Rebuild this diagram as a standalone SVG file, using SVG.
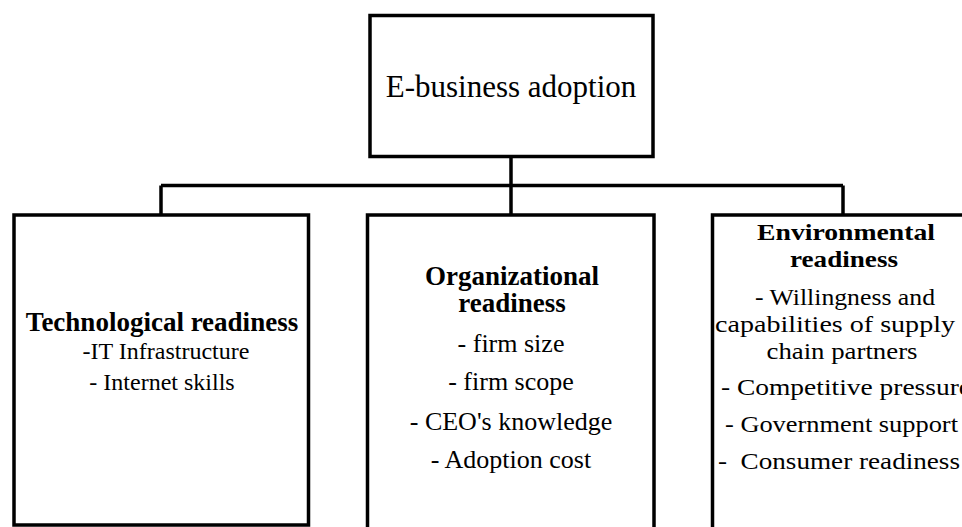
<svg xmlns="http://www.w3.org/2000/svg" width="962" height="527" viewBox="0 0 962 527">
  <style>
    .box { fill: #ffffff; stroke: #000000; stroke-width: 3.5; }
    .link { fill: none; stroke: #000000; stroke-width: 3.5; }
    text { font-family: "Liberation Serif", "Times New Roman", serif; fill: #000000; text-anchor: middle; }
    .title { font-size: 31px; }
    .head { font-size: 27px; font-weight: bold; }
    .item { font-size: 26px; }
    .item-sm { font-size: 24px; }
    .env-head { font-size: 24px; font-weight: bold; }
    .env-item { font-size: 24px; }
  </style>
  <rect width="962" height="527" fill="#ffffff"/>

  <!-- tree connectors -->
  <g id="connectors">
    <path class="link" d="M511 156 V215"/>
    <path class="link" d="M161 185.5 H843"/>
    <path class="link" d="M161 185.5 V215"/>
    <path class="link" d="M843 185.5 V215"/>
  </g>

  <!-- root -->
  <g id="node-adoption">
    <rect class="box" x="370" y="15.5" width="283" height="141"/>
    <text class="title" x="511" y="97">E-business adoption</text>
  </g>

  <!-- technological -->
  <g id="node-technological">
    <rect class="box" x="14" y="215" width="294.5" height="310"/>
    <text class="head" x="162" y="331" font-size="26">Technological readiness</text>
    <text class="item-sm" x="166" y="359">-IT Infrastructure</text>
    <text class="item-sm" x="162" y="390">- Internet skills</text>
  </g>

  <!-- organizational -->
  <g id="node-organizational">
    <rect class="box" x="367.5" y="215" width="286.5" height="330"/>
    <text class="head" x="512" y="285">Organizational</text>
    <text class="head" x="512" y="312">readiness</text>
    <text class="item" x="511" y="352">- firm size</text>
    <text class="item" x="511" y="390">- firm scope</text>
    <text class="item" x="511" y="430">- CEO's knowledge</text>
    <text class="item" x="511" y="468">- Adoption cost</text>
  </g>

  <!-- environmental: glyphs widened to fill the column -->
  <g id="node-environmental">
    <rect class="box" x="712.5" y="215" width="280" height="330"/>
    <text class="env-head" x="846" y="240" textLength="178" lengthAdjust="spacingAndGlyphs">Environmental</text>
    <text class="env-head" x="844" y="267" textLength="108" lengthAdjust="spacingAndGlyphs">readiness</text>
    <text class="env-item" x="845" y="305" textLength="180" lengthAdjust="spacingAndGlyphs">- Willingness and</text>
    <text class="env-item" x="835" y="332" textLength="240" lengthAdjust="spacingAndGlyphs">capabilities of supply</text>
    <text class="env-item" x="842" y="359" textLength="151" lengthAdjust="spacingAndGlyphs">chain partners</text>
    <text class="env-item" x="846" y="395" textLength="250" lengthAdjust="spacingAndGlyphs">- Competitive pressure</text>
    <text class="env-item" x="841.5" y="432" textLength="233" lengthAdjust="spacingAndGlyphs">- Government support</text>
    <text class="env-item" x="839" y="469" textLength="242" lengthAdjust="spacingAndGlyphs" xml:space="preserve">-  Consumer readiness</text>
  </g>
</svg>
